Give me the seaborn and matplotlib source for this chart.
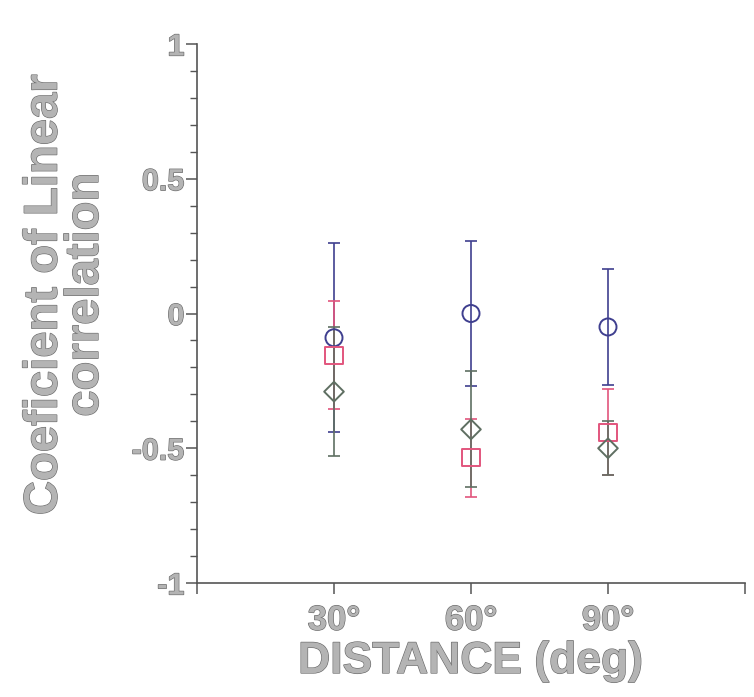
import numpy as np
import pandas as pd
import matplotlib
matplotlib.use("Agg")
import matplotlib.pyplot as plt
import matplotlib.patheffects as pe
import seaborn as sns

# ---- data ----
distances = [30, 60, 90]
xtick_labels = ["30°", "60°", "90°"]
series_names = ["circle", "square", "diamond"]
circle_vals = [-0.09, 0.00, -0.05]
circle_err = [0.35, 0.27, 0.215]
square_vals = [-0.155, -0.535, -0.44]
square_err = [0.20, 0.145, 0.16]
diamond_vals = [-0.29, -0.43, -0.50]
diamond_err = [0.24, 0.215, 0.10]

colors = {"circle": "#3f3f8f", "square": "#e2557d", "diamond": "#5f6f62"}
markers = {"circle": "o", "square": "s", "diamond": "D"}
sizes = {"circle": 150, "square": 150, "diamond": 100}

df = pd.concat([
    pd.DataFrame({"x": distances, "y": circle_vals, "err": circle_err, "series": "circle"}),
    pd.DataFrame({"x": distances, "y": square_vals, "err": square_err, "series": "square"}),
    pd.DataFrame({"x": distances, "y": diamond_vals, "err": diamond_err, "series": "diamond"}),
], ignore_index=True)

sns.set_style("white")
plt.rcParams["font.family"] = ["Liberation Sans", "DejaVu Sans"]
plt.rcParams["font.weight"] = "bold"

fig = plt.figure(figsize=(7.54, 6.97), dpi=100)
ax = fig.add_axes([197 / 754, 114 / 697, 548 / 754, 539 / 697])

# error bars first
for name in series_names:
    sub = df[df["series"] == name]
    ax.errorbar(sub["x"], sub["y"], yerr=sub["err"], fmt="none",
                ecolor=colors[name], elinewidth=1.2, capsize=4, capthick=1.2, zorder=2)

# open markers via seaborn
for name in series_names:
    sub = df[df["series"] == name]
    sns.scatterplot(data=sub, x="x", y="y", ax=ax, marker=markers[name], s=sizes[name],
                    facecolor="none", edgecolor=colors[name], linewidth=1.4, zorder=3,
                    legend=False)

ax.set_xlim(0, 120)
ax.set_ylim(-1, 1)
ax.set_xticks([0, 30, 60, 90, 120])
ax.set_xticklabels([""] + xtick_labels + [""])
ax.set_yticks([-1, -0.5, 0, 0.5, 1])
ax.set_yticklabels(["-1", "-0.5", "0", "0.5", "1"])
ax.set_yticks(np.arange(-1, 1.01, 0.1), minor=True)

for s in ["top", "right"]:
    ax.spines[s].set_visible(False)
for s in ["left", "bottom"]:
    ax.spines[s].set_color("#555555")
    ax.spines[s].set_linewidth(1.2)

txt_col = "#b4b4b4"
ax.tick_params(axis="y", which="major", direction="out", length=8, width=1.1,
               color="#555555", pad=1, labelsize=22, labelcolor=txt_col, left=True)
ax.tick_params(axis="y", which="minor", direction="out", length=5, width=1.0,
               color="#555555", left=True)
ax.tick_params(axis="x", which="major", direction="out", length=8, width=1.1,
               color="#555555", pad=7, labelsize=25, labelcolor=txt_col, bottom=True)

outline = [pe.withStroke(linewidth=0.9, foreground="#6a6a6a")]
for lab in ax.get_xticklabels() + ax.get_yticklabels():
    lab.set_fontweight("bold")
    lab.set_path_effects(outline)

ax.set_xlabel("DISTANCE (deg)", fontsize=32, fontweight="bold", color=txt_col,
              labelpad=3, path_effects=outline)
ax.set_ylabel("Coeficient of Linear\ncorrelation", fontsize=34, fontweight="bold",
              color=txt_col, linespacing=0.92, path_effects=outline)
ax.yaxis.set_label_coords(-(197 - 108) / 548, 0.535)

ax.set_facecolor("white")
fig.patch.set_facecolor("white")
fig.savefig("out.png", dpi=100)
